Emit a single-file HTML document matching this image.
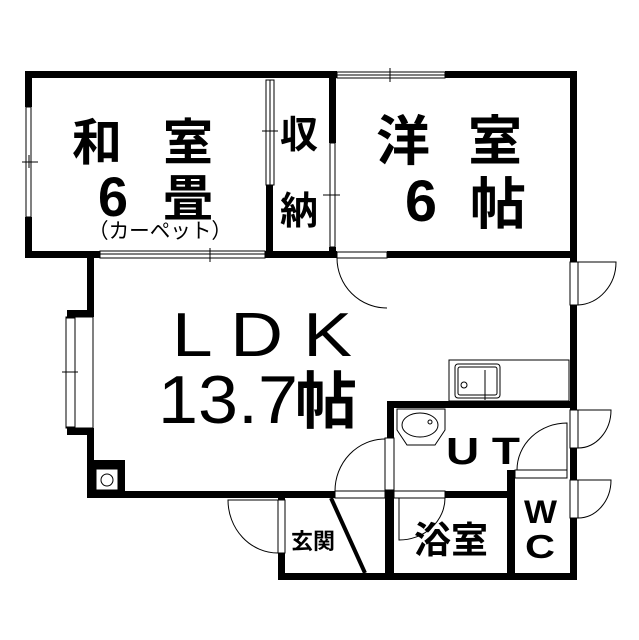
<!DOCTYPE html>
<html><head><meta charset="utf-8"><style>
html,body{margin:0;padding:0;background:#fff;width:639px;height:640px;overflow:hidden}
svg text{font-family:"Liberation Sans","Noto Sans CJK JP",sans-serif;fill:#000}
.b{font-weight:bold}
</style></head><body>
<svg width="639" height="640" viewBox="0 0 639 640" xmlns="http://www.w3.org/2000/svg">
<g fill="#000">
<rect x="25" y="71" width="312" height="7"/>
<rect x="445" y="71" width="132" height="7"/>
<rect x="25" y="71" width="7" height="36"/>
<rect x="25" y="217" width="7" height="41"/>
<rect x="25" y="251" width="75" height="7"/>
<rect x="265" y="251" width="72" height="7"/>
<rect x="266" y="185" width="7" height="70"/>
<rect x="329" y="71" width="7" height="72"/>
<rect x="329" y="247" width="7" height="11"/>
<rect x="387" y="251" width="190" height="7"/>
<rect x="570" y="71" width="7" height="191"/>
<rect x="570" y="305" width="7" height="105"/>
<rect x="570" y="448" width="7" height="32"/>
<rect x="570" y="518" width="7" height="62"/>
<rect x="87" y="255" width="7" height="62"/>
<rect x="67" y="310" width="27" height="7"/>
<rect x="67" y="428" width="27" height="7"/>
<rect x="87" y="428" width="7" height="70"/>
<rect x="87" y="460" width="38" height="38"/>
<rect x="87" y="491" width="248" height="7"/>
<rect x="278" y="491" width="7" height="9"/>
<rect x="278" y="553" width="7" height="27"/>
<rect x="278" y="573" width="299" height="7"/>
<rect x="387" y="401" width="190" height="7"/>
<rect x="387" y="401" width="7" height="37"/>
<rect x="385" y="490" width="9" height="90"/>
<rect x="445" y="491" width="69" height="7"/>
<rect x="507" y="470" width="8" height="110"/>
</g>
<g fill="#fff" stroke="#000" stroke-width="1">
<rect x="337" y="72" width="108" height="6"/>
<line x1="337" y1="75" x2="445" y2="75"/>
<rect x="26" y="107" width="5" height="110"/>
<rect x="266" y="80" width="8" height="105"/>
<line x1="270" y1="80" x2="270" y2="185"/>
<rect x="100" y="251" width="165" height="7"/>
<line x1="100" y1="254" x2="265" y2="254"/>
<rect x="330" y="143" width="5" height="104"/>
<rect x="66" y="317" width="27" height="111"/>
<rect x="66" y="318" width="9" height="109"/>
<rect x="96" y="469" width="22" height="21"/>
<circle cx="107" cy="480" r="6"/>
<rect x="337" y="252" width="50" height="6"/>
<rect x="570" y="262" width="8" height="43"/>
<rect x="570" y="410" width="8" height="38"/>
<rect x="570" y="480" width="8" height="38"/>
<rect x="278" y="500" width="7" height="53"/>
<rect x="385" y="438" width="9" height="52"/>
<rect x="335" y="491" width="50" height="7"/>
<rect x="394" y="491" width="51" height="7"/>
<rect x="515" y="470" width="52" height="8"/>
<rect x="449" y="360" width="120" height="41"/>
<rect x="455" y="364" width="45" height="34" rx="3"/>
<rect x="458" y="367" width="39" height="28" rx="2"/>
<circle cx="464" cy="385" r="3"/>
<path d="M397 409 H445 V430 L435 445 H407 L397 430 Z"/>
<ellipse cx="420" cy="425" rx="18" ry="12"/>
<circle cx="430" cy="422" r="2"/>
</g>
<g fill="none" stroke="#000" stroke-width="1">
<line x1="22" y1="162" x2="38" y2="162"/>
<line x1="29" y1="155" x2="29" y2="168"/>
<line x1="262" y1="131" x2="278" y2="131"/>
<line x1="210" y1="248" x2="210" y2="262"/>
<line x1="390" y1="68" x2="390" y2="82"/>
<line x1="323" y1="195" x2="340" y2="195"/>
<line x1="62" y1="372" x2="78" y2="372"/>
<path d="M337 258 A50 50 0 0 0 387 308"/>
<path d="M578 262 H616 A40 43 0 0 1 578 305"/>
<path d="M578 410 H611 A33 38 0 0 1 578 448"/>
<path d="M578 480 H611 A33 38 0 0 1 578 518"/>
<path d="M278 500 H228 A50 53 0 0 0 278 553"/>
<path d="M335 491 A50 52 0 0 1 385 439"/>
<path d="M399 498 V540 A46 42 0 0 0 445 498"/>
<path d="M517 470 A50 47 0 0 1 567 423 V470"/>
<line x1="485" y1="370" x2="485" y2="400"/>
</g>
<line x1="331" y1="498" x2="365" y2="573" stroke="#000" stroke-width="4"/>
<text class="b" x="72" y="160" font-size="50">和</text>
<text class="b" x="163" y="160" font-size="50">室</text>
<text class="b" x="98" y="216" font-size="56" textLength="30" lengthAdjust="spacingAndGlyphs">6</text>
<text class="b" x="163" y="216" font-size="50">畳</text>
<text x="88" y="238" font-size="21" textLength="144" lengthAdjust="spacingAndGlyphs">（カーペット）</text>
<text class="b" x="280" y="148" font-size="38">収</text>
<text class="b" x="280" y="224" font-size="38">納</text>
<text class="b" x="376" y="160" font-size="54">洋</text>
<text class="b" x="468" y="160" font-size="54">室</text>
<text class="b" x="405" y="221" font-size="58" textLength="32" lengthAdjust="spacingAndGlyphs">6</text>
<text class="b" x="470" y="224" font-size="56">帖</text>
<text x="172" y="356" font-size="62" textLength="180" lengthAdjust="spacingAndGlyphs">L D K</text>
<text x="158" y="423" font-size="68" textLength="140" lengthAdjust="spacingAndGlyphs">13.7</text>
<text class="b" x="295" y="423" font-size="62">帖</text>
<text class="b" x="446" y="464" font-size="38" textLength="74" lengthAdjust="spacingAndGlyphs">U T</text>
<text class="b" x="414" y="553" font-size="37">浴室</text>
<text class="b" x="291" y="549" font-size="22">玄関</text>
<text class="b" x="524" y="523" font-size="32" textLength="33" lengthAdjust="spacingAndGlyphs">W</text>
<text class="b" x="525" y="558" font-size="33" textLength="30" lengthAdjust="spacingAndGlyphs">C</text>
</svg>
</body></html>
